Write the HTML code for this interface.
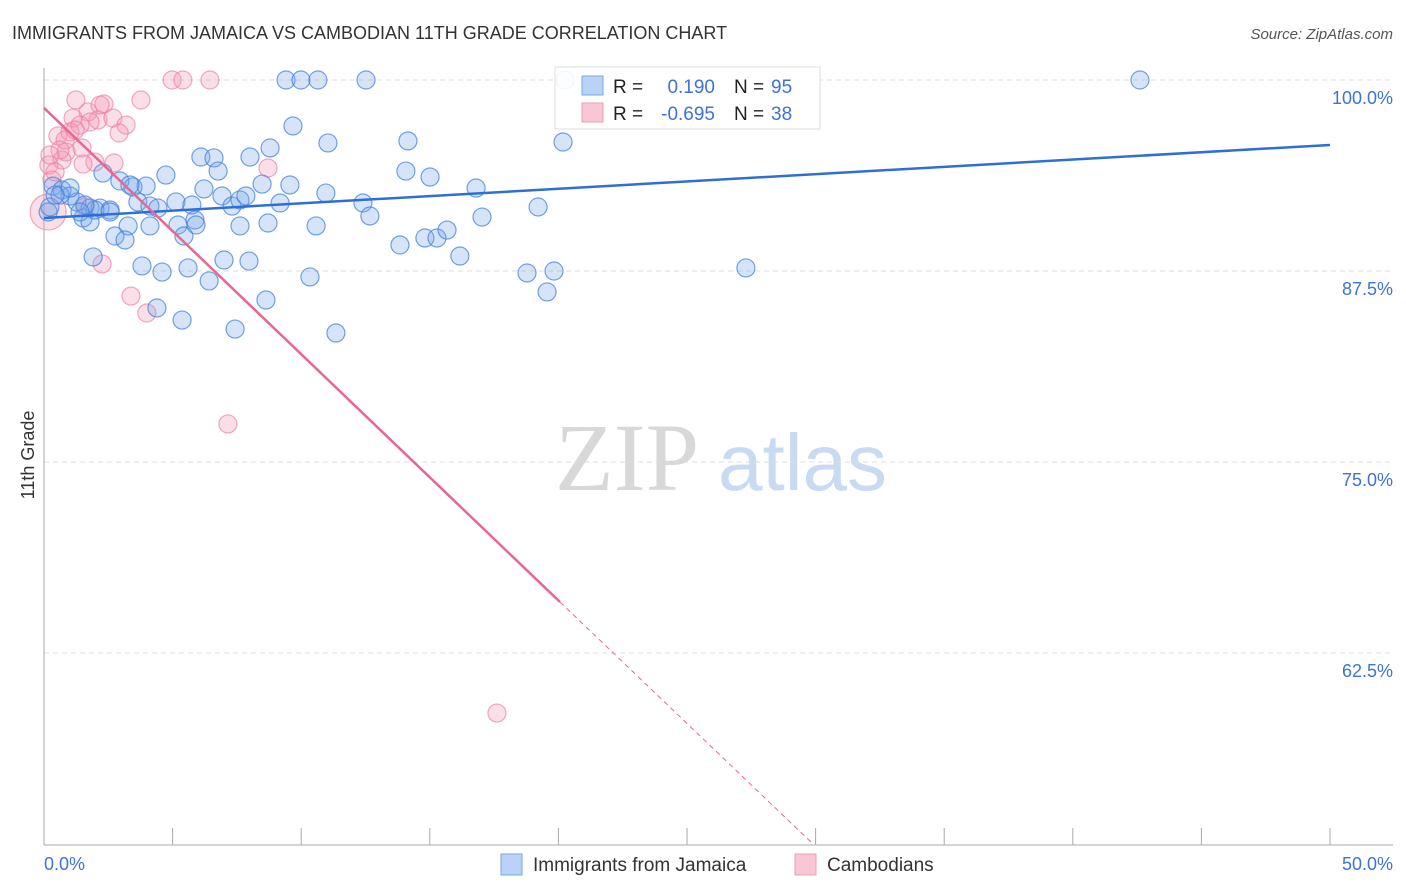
<!DOCTYPE html>
<html><head><meta charset="utf-8"><style>
body{margin:0;background:#fff;font-family:"Liberation Sans",sans-serif;}
#wrap{position:relative;width:1406px;height:892px;overflow:hidden;}
</style></head><body>
<div id="wrap">
<svg id="svg" width="1406" height="892" xmlns="http://www.w3.org/2000/svg">
<text x="12" y="39" font-size="18" fill="#333">IMMIGRANTS FROM JAMAICA VS CAMBODIAN 11TH GRADE CORRELATION CHART</text>
<text x="1393" y="39" font-size="15" fill="#555" font-style="italic" text-anchor="end">Source: ZipAtlas.com</text>
<text x="555" y="490" font-size="96" fill="#d8d8d8" font-family="Liberation Serif,serif">ZIP</text>
<text x="718" y="490" font-size="80" fill="#c9daf3">atlas</text>
<g id="grid"></g>
<line x1="44" y1="68" x2="44" y2="845" stroke="#aaa"/>
<line x1="44" y1="845" x2="1393" y2="845" stroke="#aaa"/>
<g id="ticks"></g>
<g id="pts"></g>
<g id="trend"></g>
<text x="34" y="455" font-size="18" fill="#333" text-anchor="middle" transform="rotate(-90 34 455)">11th Grade</text>
<text x="44" y="870" font-size="18" fill="#3d72d9">0.0%</text>
<text x="1393" y="870" font-size="18" fill="#3d72d9" text-anchor="end">50.0%</text>
<g>
<rect x="555" y="67" width="265" height="62" fill="#fff" fill-opacity="0.9" stroke="#ddd"/>
<rect x="582" y="76" width="21" height="19" fill="#b9d2f5" stroke="#7aa6e6"/>
<rect x="582" y="103" width="21" height="19" fill="#f9c6d5" stroke="#ee9db5"/>
<text x="613" y="93" font-size="19" fill="#222">R = </text><text x="715" y="93" font-size="19" fill="#3d72d9" text-anchor="end">0.190</text>
<text x="734" y="93" font-size="19" fill="#222">N = </text><text x="771" y="93" font-size="19" fill="#3d72d9">95</text>
<text x="613" y="120" font-size="19" fill="#222">R = </text><text x="715" y="120" font-size="19" fill="#3d72d9" text-anchor="end">-0.695</text>
<text x="734" y="120" font-size="19" fill="#222">N = </text><text x="771" y="120" font-size="19" fill="#3d72d9">38</text>
</g>
<g>
<rect x="501" y="854" width="21" height="21" fill="#b9d2f5" stroke="#7aa6e6"/>
<text x="533" y="871" font-size="19" fill="#333">Immigrants from Jamaica</text></g>
<g>
<rect x="795" y="854" width="21" height="21" fill="#f9c6d5" stroke="#ee9db5"/>
<text x="827" y="871" font-size="19" fill="#333">Cambodians</text></g>
</svg></div>
<script>
const yTicks=[100,87.5,75,62.5];
const yTickLabels=["100.0%","87.5%","75.0%","62.5%"];
const xTicks=[0,5,10,15,20,25,30,35,40,45,50];
const jamaica=[[9.41,100],[9.99,100],[10.65,100],[12.52,100],[42.61,100],[20.26,100],[9.68,96.99],[14.15,96.01],[11.04,95.88],[20.18,95.94],[8.79,95.55],[6.10,94.96],[6.61,94.90],[8.01,94.96],[14.07,94.04],[15.01,93.65],[4.74,93.78],[2.29,93.91],[0.35,93.06],[0.70,92.80],[1.01,92.41],[1.28,92.02],[1.79,91.62],[2.18,91.62],[2.57,91.49],[1.52,90.97],[1.79,90.71],[2.95,93.39],[3.46,93.00],[3.97,93.06],[3.65,92.02],[4.12,91.75],[4.43,91.62],[5.13,92.02],[5.75,91.82],[6.22,92.87],[6.77,94.04],[6.92,92.41],[7.31,91.75],[7.62,92.15],[7.85,92.41],[8.48,93.19],[9.18,91.95],[9.56,93.13],[10.96,92.60],[12.40,91.95],[12.67,91.10],[16.80,92.93],[17.03,91.03],[19.21,91.69],[5.87,90.84],[5.91,90.51],[7.62,90.45],[8.71,90.64],[10.58,90.45],[5.21,90.51],[5.44,89.79],[4.12,90.45],[3.27,90.45],[2.76,89.79],[3.15,89.53],[13.84,89.20],[14.81,89.66],[15.28,89.66],[15.67,90.18],[16.17,88.48],[1.91,88.42],[3.81,87.83],[4.59,87.43],[5.60,87.70],[7.00,88.22],[7.97,88.15],[10.34,87.11],[18.78,87.37],[19.83,87.50],[19.56,86.13],[27.29,87.70],[6.42,86.85],[4.39,85.08],[5.37,84.29],[7.43,83.70],[8.63,85.60],[11.35,83.44],[0.16,91.36],[0.23,91.69],[0.62,92.47],[3.34,93.13],[1.98,91.49],[2.57,91.36],[1.59,91.82],[1.01,92.93],[0.43,92.47],[1.40,91.36]];
const cambodian=[[4.98,100],[5.40,100],[6.45,100],[1.24,98.69],[3.77,98.69],[2.33,98.43],[1.71,97.91],[1.13,97.51],[2.10,97.38],[2.68,97.51],[3.19,97.05],[0.54,96.34],[1.01,96.60],[2.92,96.53],[1.48,95.55],[0.86,95.29],[0.70,94.76],[1.98,94.63],[2.72,94.57],[0.19,94.44],[0.43,93.98],[8.71,94.24],[1.52,94.50],[0.16,91.36],[1.59,91.69],[2.26,87.96],[3.38,85.86],[4.00,84.75],[7.15,77.49],[17.61,58.57],[1.79,97.25],[1.40,97.05],[0.82,96.07],[0.62,95.42],[0.23,95.09],[0.31,93.46],[2.18,98.36],[1.21,96.73]];
const blueTrend=[[0,90.97],[50,95.75]];
const pinkTrend=[[0,98.17],[20.06,65.84],[29.9,50]];
const NS="http://www.w3.org/2000/svg";
function X(v){return 44+v*25.72;}
function Y(v){return 80+(100-v)*15.28;}
function mk(tag,attrs,parent){const e=document.createElementNS(NS,tag);for(const k in attrs)e.setAttribute(k,attrs[k]);document.getElementById(parent).appendChild(e);return e;}
yTicks.forEach((t,i)=>{
 const l=mk('line',{x1:44,x2:1393,y1:Y(t),y2:Y(t),stroke:'#ddd','stroke-dasharray':'5,4'},'grid');
 
 
 const tx=mk('text',{x:1393,y:Y(t)+24,'font-size':18,fill:'#3d72d9','text-anchor':'end'},'grid');
 tx.textContent=yTickLabels[i];
 
 
});
xTicks.forEach(t=>{
 const l=mk('line',{x1:X(t),x2:X(t),y1:828,y2:845,stroke:'#aaa'},'ticks');
 
 
});
cambodian.forEach(p=>{
 const big=(p[0]<0.2&&p[1]<92);
 const c=mk('circle',{cx:X(p[0]),cy:Y(p[1]),r:big?18:9,fill:'rgba(243,150,180,0.3)',stroke:'rgba(236,130,165,0.7)','stroke-width':1.2},'pts');
 
 
});
jamaica.forEach(p=>{
 const c=mk('circle',{cx:X(p[0]),cy:Y(p[1]),r:9,fill:'rgba(120,165,235,0.3)',stroke:'rgba(70,130,220,0.75)','stroke-width':1.2},'pts');
 
 
});
const bt=mk('line',{x1:X(blueTrend[0][0]),y1:Y(blueTrend[0][1]),x2:X(blueTrend[1][0]),y2:Y(blueTrend[1][1]),stroke:'#2d6fd6','stroke-width':2.5},'trend');


const pt=mk('line',{x1:X(pinkTrend[0][0]),y1:Y(pinkTrend[0][1]),x2:X(pinkTrend[1][0]),y2:Y(pinkTrend[1][1]),stroke:'#e9668f','stroke-width':2.5},'trend');


const pd=mk('line',{x1:X(pinkTrend[1][0]),y1:Y(pinkTrend[1][1]),x2:X(pinkTrend[2][0]),y2:Y(pinkTrend[2][1]),stroke:'#e9668f','stroke-width':1,'stroke-dasharray':'5,4'},'trend');


</script>
</body></html>
